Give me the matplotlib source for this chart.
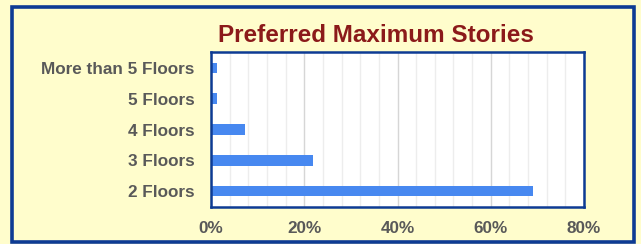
import matplotlib
matplotlib.use("Agg")
import matplotlib.pyplot as plt
from matplotlib.patches import Rectangle
from matplotlib.ticker import MultipleLocator, FuncFormatter

categories = ["2 Floors", "3 Floors", "4 Floors", "5 Floors", "More than 5 Floors"]
values = [0.691, 0.218, 0.073, 0.012, 0.012]
xticks = [0.0, 0.2, 0.4, 0.6, 0.8]
title = "Preferred Maximum Stories"

W, H = 641, 244
fig = plt.figure(figsize=(W / 100, H / 100), dpi=100)
bg = "#FFFDCC"
navy = "#0D3B94"
fig.patch.set_facecolor(bg)

# outer border
fig.patches.append(Rectangle((11.5 / W, 1 - 241.5 / H), (634 - 11.5) / W, (241.5 - 6.5) / H,
                             transform=fig.transFigure, fill=False, edgecolor=navy, linewidth=2.6))

ax = fig.add_axes([211 / W, 1 - 207 / H, (584 - 211) / W, (207 - 52) / H])
ax.set_facecolor("white")
ypos = list(range(len(categories)))
ax.barh(ypos, values, height=0.35, color="#4788F0", zorder=3)
ax.set_ylim(-0.52, 4.52)
ax.set_xlim(0, 0.8)
ax.set_yticks(ypos)
ax.set_yticklabels(categories)
ax.set_xticks(xticks)
ax.xaxis.set_major_formatter(FuncFormatter(lambda v, p: f"{v * 100:.0f}%"))
ax.xaxis.set_minor_locator(MultipleLocator(0.04))
ax.grid(axis="x", which="minor", color="#EDEDED", linewidth=1, zorder=0)
ax.grid(axis="x", which="major", color="#D6D6D6", linewidth=1, zorder=0)
ax.tick_params(axis="both", which="both", length=0)
ax.tick_params(axis="y", pad=12)
ax.tick_params(axis="x", pad=10)
for lab in ax.get_yticklabels() + ax.get_xticklabels():
    lab.set_family(["Liberation Sans", "DejaVu Sans"])
    lab.set_fontweight("bold")
    lab.set_fontsize(12.3)
    lab.set_color("#595959")
for s in ax.spines.values():
    s.set_color(navy)
    s.set_linewidth(1.8)
    s.set_zorder(5)

fig.text(376 / W, 1 - 42 / H, title, ha="center", va="baseline",
         fontsize=17.5, fontweight="bold", color="#8B1A1A",
         family=["Liberation Sans", "DejaVu Sans"])

fig.savefig("out.png", dpi=100, facecolor=bg)
